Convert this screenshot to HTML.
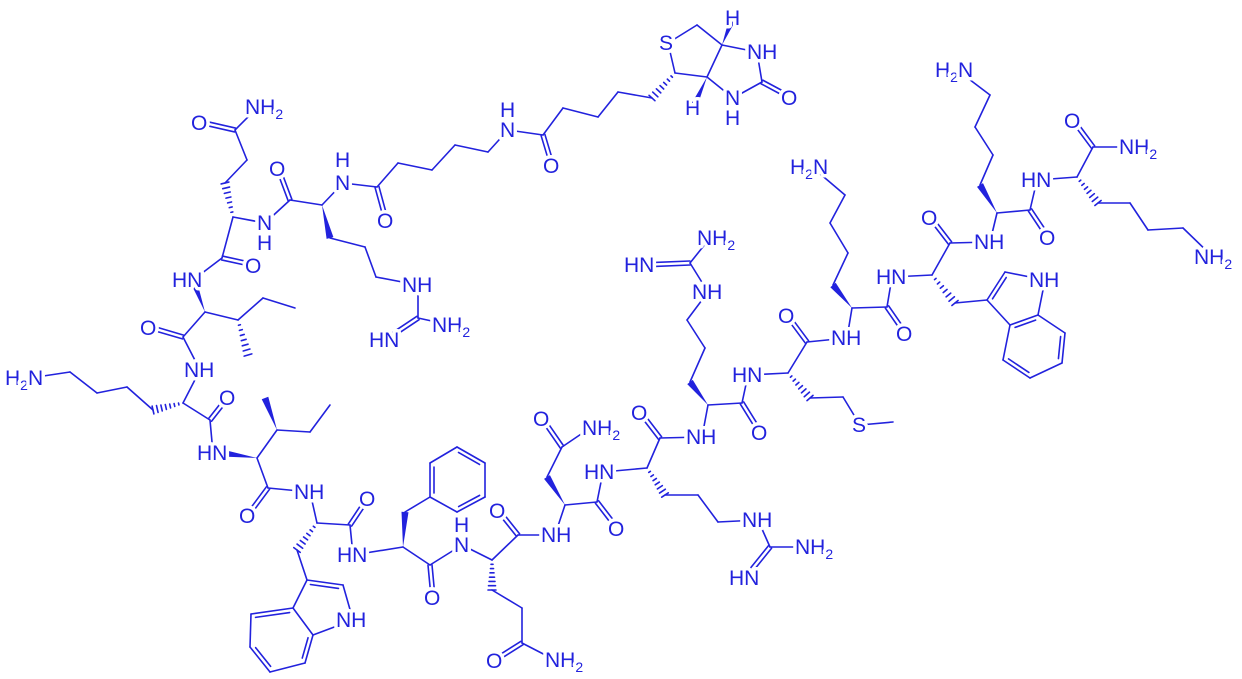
<!DOCTYPE html>
<html><head><meta charset="utf-8"><style>
html,body{margin:0;padding:0;background:#fff;}
svg{display:block;}
text{font-family:"Liberation Sans",Arial,sans-serif;font-size:21px;fill:#2222dd;stroke:#fff;stroke-width:7px;paint-order:stroke;stroke-linejoin:round;}
</style></head><body>
<svg id="s" width="1242" height="679" viewBox="0 0 1242 679" xmlns="http://www.w3.org/2000/svg">
<g id="b" stroke="#2222dd" stroke-width="1.6" fill="none" stroke-linecap="round"></g>
<g id="w" fill="#2222dd"></g>
<g id="t">
<text x="245" y="114">NH<tspan dy="5" font-size="14">2</tspan></text>
<text x="191" y="130">O</text>
<text x="269" y="176">O</text>
<text x="335" y="167">H</text><text x="335" y="190">N</text>
<text x="377" y="228">O</text>
<text x="257" y="230">N</text><text x="257" y="250">H</text>
<text x="245" y="273">O</text>
<text x="172" y="287">HN</text>
<text x="140" y="335">O</text>
<text x="184" y="377">NH</text>
<text x="5" y="385">H<tspan dy="5" font-size="14">2</tspan><tspan dy="-5">N</tspan></text>
<text x="402" y="292">NH</text>
<text x="432" y="332">NH<tspan dy="5" font-size="14">2</tspan></text>
<text x="369" y="347">HN</text>
<text x="219" y="405">O</text>
<text x="197" y="460">HN</text>
<text x="294" y="499">NH</text>
<text x="359" y="506">O</text>
<text x="239" y="523">O</text>
<text x="337" y="562">HN</text>
<text x="336" y="627">NH</text>
<text x="659" y="50">S</text>
<text x="725" y="25">H</text>
<text x="747" y="59">NH</text>
<text x="725" y="105">N</text><text x="725" y="125">H</text>
<text x="685" y="115">H</text>
<text x="781" y="105">O</text>
<text x="500" y="117">H</text><text x="500" y="137">N</text>
<text x="543" y="173">O</text>
<text x="697" y="245">NH<tspan dy="5" font-size="14">2</tspan></text>
<text x="624" y="272">HN</text>
<text x="692" y="299">NH</text>
<text x="778" y="323">O</text>
<text x="732" y="382">HN</text>
<text x="631" y="420">O</text>
<text x="686" y="444">NH</text>
<text x="751" y="440">O</text>
<text x="533" y="426">O</text>
<text x="582" y="435">NH<tspan dy="5" font-size="14">2</tspan></text>
<text x="584" y="479">HN</text>
<text x="608" y="536">O</text>
<text x="489" y="518">O</text>
<text x="454" y="532">H</text><text x="454" y="552">N</text>
<text x="541" y="542">NH</text>
<text x="424" y="605">O</text>
<text x="742" y="527">NH</text>
<text x="795" y="554">NH<tspan dy="5" font-size="14">2</tspan></text>
<text x="729" y="585">HN</text>
<text x="486" y="668">O</text>
<text x="545" y="667">NH<tspan dy="5" font-size="14">2</tspan></text>
<text x="935" y="77">H<tspan dy="5" font-size="14">2</tspan><tspan dy="-5">N</tspan></text>
<text x="1064" y="128">O</text>
<text x="1119" y="154">NH<tspan dy="5" font-size="14">2</tspan></text>
<text x="790" y="174">H<tspan dy="5" font-size="14">2</tspan><tspan dy="-5">N</tspan></text>
<text x="1021" y="187">HN</text>
<text x="921" y="225">O</text>
<text x="974" y="249">NH</text>
<text x="1039" y="245">O</text>
<text x="1194" y="264">NH<tspan dy="5" font-size="14">2</tspan></text>
<text x="876" y="284">HN</text>
<text x="1029" y="287">NH</text>
<text x="831" y="345">NH</text>
<text x="896" y="341">O</text>
<text x="852" y="432">S</text>
</g>
</svg>
<script>
var B=[
"S 235 130 255 110","S 235 130 247 160","S 247 160 225 183","S 233 217 265 223","S 233 217 222 258","S 222 258 193 280",
"S 265 223 290 200","S 290 200 322 205","S 322 205 343 183","S 330 238 365 247","S 365 247 376 277","S 376 277 418 285",
"S 343 183 377 187","S 377 187 398 163","S 398 163 432 170","S 432 170 455 145","S 455 145 488 152","S 488 152 508 130",
"S 508 130 543 135","S 543 135 563 108","S 563 108 598 117","S 598 117 618 92","S 618 92 652 98",
"S 675 73 668 43","S 668 43 697 25","S 697 25 722 45","S 722 45 707 77","S 707 77 675 73","S 722 45 757 52","S 757 52 762 82","S 762 82 733 98","S 733 98 707 77",
"S 418 285 418 318","S 418 318 450 325",
"S 205 312 183 337","S 183 337 200 370","S 205 312 238 320","S 238 320 263 298","S 263 298 295 308",
"S 30 378 70 372","S 70 372 97 393","S 97 393 127 387","S 127 387 153 410","S 200 370 183 403","S 183 403 210 420","S 210 420 213 453",
"S 257 458 277 430","S 277 430 310 432","S 310 432 330 405","S 257 458 268 488","S 268 488 310 492",
"S 310 492 317 523","S 317 523 350 525","S 350 525 353 555","S 297 550 307 580",
"S 343 585 353 620","S 353 620 313 635","S 293 608 307 580","S 251 614 250 647","S 270 672 305 663","S 313 635 293 608",
"S 353 555 403 547","S 405 512 430 497","S 430 463 457 447","S 485 463 485 497","S 457 512 430 497",
"S 403 547 430 565","S 430 565 462 545",
"S 462 545 492 560","S 492 590 522 608","S 522 608 522 643","S 522 643 555 660","S 492 560 518 535","S 518 535 555 535",
"S 555 535 565 505","S 547 477 562 447","S 562 447 590 428","S 565 505 597 502","S 597 502 603 472",
"S 603 472 647 468","S 665 495 698 495","S 698 495 718 522","S 718 522 758 520","S 758 520 770 547","S 770 547 813 547",
"S 647 468 660 438","S 660 438 702 437",
"S 702 437 708 405","S 708 405 742 403","S 742 403 748 375","S 690 382 705 348","S 705 348 687 320","S 687 320 708 292","S 708 292 690 263","S 690 263 710 238",
"S 748 375 788 373","S 788 373 807 342","S 807 342 847 338","S 810 398 843 397","S 843 397 860 425","S 860 425 893 422",
"S 847 338 852 308","S 833 285 848 253","S 848 253 830 223","S 830 223 845 195","S 845 195 812 167","S 852 308 887 307","S 887 307 892 277",
"S 892 277 932 275","S 932 275 950 243","S 950 243 990 242","S 955 303 987 300",
"S 1005 272 1045 280","S 1045 280 1038 315","S 1010 325 987 300","S 1010 325 1003 360","S 1030 378 1062 363","S 1065 333 1038 315",
"S 990 242 997 213","S 980 185 993 155","S 993 155 975 127","S 975 127 990 95","S 990 95 957 70","S 997 213 1030 210","S 1030 210 1037 180",
"S 1037 180 1077 177","S 1077 177 1093 147","S 1093 147 1138 147","S 1098 203 1130 203","S 1130 203 1148 230","S 1148 230 1183 228","S 1183 228 1213 257",
"D 235 130 200 122","D 222 258 254 265","D 290 200 278 168","D 377 187 386 220","D 543 135 552 165","D 762 82 790 97","D 418 318 385 340",
"D 183 337 149 327","D 210 420 228 397","D 268 488 248 515","D 350 525 368 498",
"I 307 580 343 585 323 602","I 293 608 251 614 280 640","I 250 647 270 672 280 640","I 305 663 313 635 280 640",
"I 457 447 485 463 457 480","I 485 497 457 512 457 480","I 430 497 430 463 457 480",
"D 430 565 433 597","D 522 643 495 660","D 518 535 498 510","D 562 447 542 418","D 597 502 617 528","D 770 547 745 578",
"D 660 438 640 412","D 742 403 760 432","D 690 263 640 265","D 807 342 787 315","D 887 307 905 333","D 950 243 930 217",
"I 987 300 1005 272 1015 298","I 1003 360 1030 378 1035 345","I 1062 363 1065 333 1035 345","I 1038 315 1010 325 1035 345",
"D 1030 210 1048 237","D 1093 147 1073 120",
"W 322 205 330 238","W 722 45 733 18","W 707 77 693 108","W 205 312 193 280","W 257 458 222 453","W 277 430 265 398",
"W 403 547 405 512","W 565 505 547 477","W 708 405 690 382","W 852 308 833 285","W 997 213 980 185",
"H 233 217 225 183","H 675 73 652 98","H 238 320 248 355","H 183 403 153 410","H 317 523 297 550","H 492 560 492 590",
"H 647 468 665 495","H 788 373 810 398","H 932 275 955 303","H 1077 177 1098 203"
];
var NS="http://www.w3.org/2000/svg",gb=document.getElementById("b"),gw=document.getElementById("w");
function ln(a,b,c,d){var l=document.createElementNS(NS,"line");l.setAttribute("x1",a);l.setAttribute("y1",b);l.setAttribute("x2",c);l.setAttribute("y2",d);gb.appendChild(l);}
B.forEach(function(s){var p=s.split(" "),t=p[0],x1=+p[1],y1=+p[2],x2=+p[3],y2=+p[4];
var dx=x2-x1,dy=y2-y1,L=Math.sqrt(dx*dx+dy*dy),nx=-dy/L,ny=dx/L,ux=dx/L,uy=dy/L;
if(t=="S")ln(x1,y1,x2,y2);
else if(t=="D"){var ex=x2-ux*9,ey=y2-uy*9;ln(x1+nx*2,y1+ny*2,ex+nx*2,ey+ny*2);ln(x1-nx*2,y1-ny*2,ex-nx*2,ey-ny*2);}
else if(t=="I"){ln(x1,y1,x2,y2);var cx=+p[5],cy=+p[6],mx=(x1+x2)/2,my=(y1+y2)/2;
 if((cx-mx)*nx+(cy-my)*ny<0){nx=-nx;ny=-ny;}
 ln(x1+nx*4+ux*4,y1+ny*4+uy*4,x2+nx*4-ux*4,y2+ny*4-uy*4);}
else if(t=="W"){var pg=document.createElementNS(NS,"polygon");pg.setAttribute("points",x1+","+y1+" "+(x2+nx*3.5)+","+(y2+ny*3.5)+" "+(x2-nx*3.5)+","+(y2-ny*3.5));gw.appendChild(pg);}
else if(t=="H"){for(var i=1;i<=7;i++){var f=i/7,cx2=x1+dx*f,cy2=y1+dy*f,h=0.5+3.5*f;ln(cx2+nx*h,cy2+ny*h,cx2-nx*h,cy2-ny*h);}}
});
</script>
</body></html>
